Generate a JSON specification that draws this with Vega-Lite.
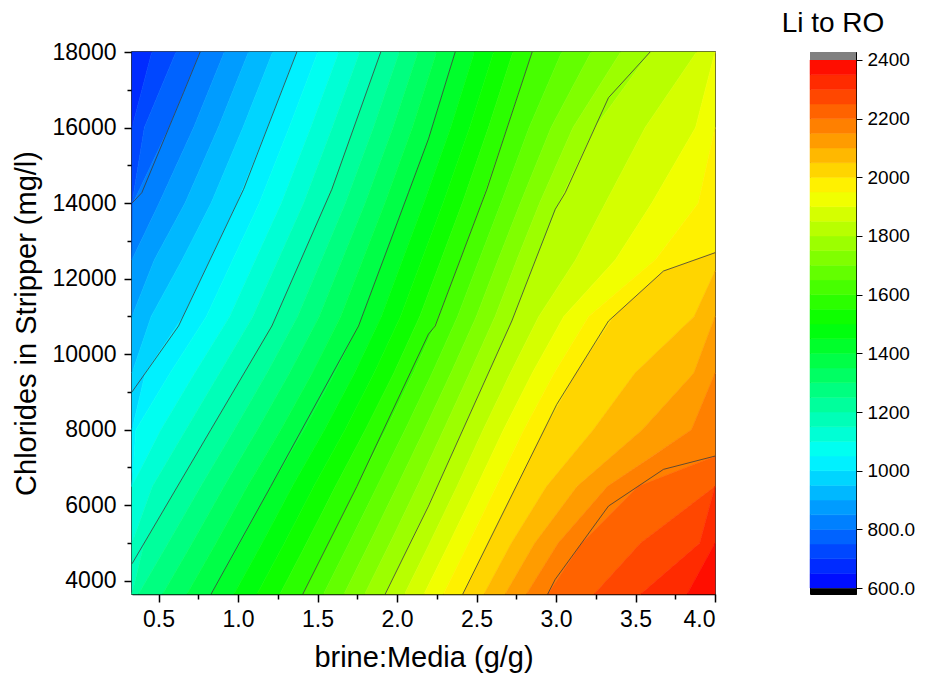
{
  "$schema": "https://vega.github.io/schema/vega-lite/v6.json",
  "background": "white",
  "padding": {"left": 11, "top": 9, "right": 5, "bottom": 5},
  "bounds": "flush",
  "spacing": 95,
  "config": {"font": "Liberation Sans", "view": {"stroke": "black", "strokeWidth": 1.5}},
  "datasets": {
    "bands": [
      {"v":675,"y":18000,"a":0.3333,"b":0.458},{"v":675,"y":16000,"a":0.3333,"b":0.3333},
      {"v":725,"y":18000,"a":0.458,"b":0.61},{"v":725,"y":16000,"a":0.3333,"b":0.411},{"v":725,"y":14000,"a":0.3333,"b":0.3333},
      {"v":775,"y":18000,"a":0.61,"b":0.762},{"v":775,"y":16000,"a":0.411,"b":0.566},{"v":775,"y":14000,"a":0.3333,"b":0.34},{"v":775,"y":12500,"a":0.3333,"b":0.3333},
      {"v":825,"y":18000,"a":0.762,"b":0.914},{"v":825,"y":16000,"a":0.566,"b":0.721},{"v":825,"y":14000,"a":0.34,"b":0.504},{"v":825,"y":12500,"a":0.3333,"b":0.3333},
      {"v":875,"y":18000,"a":0.914,"b":1.066},{"v":875,"y":16000,"a":0.721,"b":0.876},{"v":875,"y":14000,"a":0.504,"b":0.667},{"v":875,"y":12500,"a":0.3333,"b":0.474},{"v":875,"y":11000,"a":0.3333,"b":0.3333},
      {"v":925,"y":18000,"a":1.066,"b":1.218},{"v":925,"y":16000,"a":0.876,"b":1.031},{"v":925,"y":14000,"a":0.667,"b":0.831},{"v":925,"y":12500,"a":0.474,"b":0.649},{"v":925,"y":11000,"a":0.3333,"b":0.454},{"v":925,"y":9500,"a":0.3333,"b":0.3333},
      {"v":975,"y":18000,"a":1.218,"b":1.37},{"v":975,"y":16000,"a":1.031,"b":1.186},{"v":975,"y":14000,"a":0.831,"b":0.994},{"v":975,"y":12500,"a":0.649,"b":0.824},{"v":975,"y":11000,"a":0.454,"b":0.655},{"v":975,"y":9500,"a":0.3333,"b":0.417},{"v":975,"y":8000,"a":0.3333,"b":0.3333},
      {"v":1025,"y":18000,"a":1.37,"b":1.502},{"v":1025,"y":16000,"a":1.186,"b":1.322},{"v":1025,"y":14000,"a":0.994,"b":1.134},{"v":1025,"y":12500,"a":0.824,"b":0.967},{"v":1025,"y":11000,"a":0.655,"b":0.801},{"v":1025,"y":9500,"a":0.417,"b":0.573},{"v":1025,"y":8000,"a":0.3333,"b":0.358},{"v":1025,"y":6500,"a":0.3333,"b":0.3333},
      {"v":1075,"y":18000,"a":1.502,"b":1.634},{"v":1075,"y":16000,"a":1.322,"b":1.458},{"v":1075,"y":14000,"a":1.134,"b":1.273},{"v":1075,"y":12500,"a":0.967,"b":1.11},{"v":1075,"y":11000,"a":0.801,"b":0.948},{"v":1075,"y":9500,"a":0.573,"b":0.728},{"v":1075,"y":8000,"a":0.358,"b":0.515},{"v":1075,"y":6500,"a":0.3333,"b":0.3333},
      {"v":1125,"y":18000,"a":1.634,"b":1.766},{"v":1125,"y":16000,"a":1.458,"b":1.593},{"v":1125,"y":14000,"a":1.273,"b":1.413},{"v":1125,"y":12500,"a":1.11,"b":1.253},{"v":1125,"y":11000,"a":0.948,"b":1.094},{"v":1125,"y":9500,"a":0.728,"b":0.884},{"v":1125,"y":8000,"a":0.515,"b":0.672},{"v":1125,"y":6500,"a":0.3333,"b":0.462},{"v":1125,"y":5000,"a":0.3333,"b":0.3333},
      {"v":1175,"y":18000,"a":1.766,"b":1.898},{"v":1175,"y":16000,"a":1.593,"b":1.729},{"v":1175,"y":14000,"a":1.413,"b":1.552},{"v":1175,"y":12500,"a":1.253,"b":1.396},{"v":1175,"y":11000,"a":1.094,"b":1.24},{"v":1175,"y":9500,"a":0.884,"b":1.039},{"v":1175,"y":8000,"a":0.672,"b":0.829},{"v":1175,"y":6500,"a":0.462,"b":0.619},{"v":1175,"y":5000,"a":0.3333,"b":0.41},{"v":1175,"y":3650,"a":0.3333,"b":0.3333},
      {"v":1225,"y":18000,"a":1.898,"b":2.015},{"v":1225,"y":16000,"a":1.729,"b":1.852},{"v":1225,"y":14000,"a":1.552,"b":1.676},{"v":1225,"y":12500,"a":1.396,"b":1.526},{"v":1225,"y":11000,"a":1.24,"b":1.375},{"v":1225,"y":9500,"a":1.039,"b":1.182},{"v":1225,"y":8000,"a":0.829,"b":0.976},{"v":1225,"y":6500,"a":0.619,"b":0.766},{"v":1225,"y":5000,"a":0.41,"b":0.561},{"v":1225,"y":3650,"a":0.3333,"b":0.374},
      {"v":1275,"y":18000,"a":2.015,"b":2.132},{"v":1275,"y":16000,"a":1.852,"b":1.975},{"v":1275,"y":14000,"a":1.676,"b":1.8},{"v":1275,"y":12500,"a":1.526,"b":1.655},{"v":1275,"y":11000,"a":1.375,"b":1.511},{"v":1275,"y":9500,"a":1.182,"b":1.324},{"v":1275,"y":8000,"a":0.976,"b":1.122},{"v":1275,"y":6500,"a":0.766,"b":0.913},{"v":1275,"y":5000,"a":0.561,"b":0.712},{"v":1275,"y":3650,"a":0.374,"b":0.526},
      {"v":1325,"y":18000,"a":2.132,"b":2.249},{"v":1325,"y":16000,"a":1.975,"b":2.097},{"v":1325,"y":14000,"a":1.8,"b":1.924},{"v":1325,"y":12500,"a":1.655,"b":1.785},{"v":1325,"y":11000,"a":1.511,"b":1.646},{"v":1325,"y":9500,"a":1.324,"b":1.467},{"v":1325,"y":8000,"a":1.122,"b":1.269},{"v":1325,"y":6500,"a":0.913,"b":1.059},{"v":1325,"y":5000,"a":0.712,"b":0.862},{"v":1325,"y":3650,"a":0.526,"b":0.679},
      {"v":1375,"y":18000,"a":2.249,"b":2.366},{"v":1375,"y":16000,"a":2.097,"b":2.22},{"v":1375,"y":14000,"a":1.924,"b":2.048},{"v":1375,"y":12500,"a":1.785,"b":1.914},{"v":1375,"y":11000,"a":1.646,"b":1.781},{"v":1375,"y":9500,"a":1.467,"b":1.609},{"v":1375,"y":8000,"a":1.269,"b":1.415},{"v":1375,"y":6500,"a":1.059,"b":1.206},{"v":1375,"y":5000,"a":0.862,"b":1.013},{"v":1375,"y":3650,"a":0.679,"b":0.831},
      {"v":1425,"y":18000,"a":2.366,"b":2.487},{"v":1425,"y":16000,"a":2.22,"b":2.338},{"v":1425,"y":14000,"a":2.048,"b":2.169},{"v":1425,"y":12500,"a":1.914,"b":2.035},{"v":1425,"y":11000,"a":1.781,"b":1.902},{"v":1425,"y":9500,"a":1.609,"b":1.733},{"v":1425,"y":8000,"a":1.415,"b":1.544},{"v":1425,"y":6500,"a":1.206,"b":1.342},{"v":1425,"y":5000,"a":1.013,"b":1.152},{"v":1425,"y":3650,"a":0.831,"b":0.975},
      {"v":1475,"y":18000,"a":2.487,"b":2.608},{"v":1475,"y":16000,"a":2.338,"b":2.457},{"v":1475,"y":14000,"a":2.169,"b":2.29},{"v":1475,"y":12500,"a":2.035,"b":2.156},{"v":1475,"y":11000,"a":1.902,"b":2.022},{"v":1475,"y":9500,"a":1.733,"b":1.856},{"v":1475,"y":8000,"a":1.544,"b":1.673},{"v":1475,"y":6500,"a":1.342,"b":1.477},{"v":1475,"y":5000,"a":1.152,"b":1.292},{"v":1475,"y":3650,"a":0.975,"b":1.12},
      {"v":1525,"y":18000,"a":2.608,"b":2.729},{"v":1525,"y":16000,"a":2.457,"b":2.575},{"v":1525,"y":14000,"a":2.29,"b":2.411},{"v":1525,"y":12500,"a":2.156,"b":2.277},{"v":1525,"y":11000,"a":2.022,"b":2.143},{"v":1525,"y":9500,"a":1.856,"b":1.98},{"v":1525,"y":8000,"a":1.673,"b":1.801},{"v":1525,"y":6500,"a":1.477,"b":1.613},{"v":1525,"y":5000,"a":1.292,"b":1.431},{"v":1525,"y":3650,"a":1.12,"b":1.264},
      {"v":1575,"y":18000,"a":2.729,"b":2.85},{"v":1575,"y":16000,"a":2.575,"b":2.693},{"v":1575,"y":14000,"a":2.411,"b":2.532},{"v":1575,"y":12500,"a":2.277,"b":2.398},{"v":1575,"y":11000,"a":2.143,"b":2.263},{"v":1575,"y":9500,"a":1.98,"b":2.103},{"v":1575,"y":8000,"a":1.801,"b":1.93},{"v":1575,"y":6500,"a":1.613,"b":1.748},{"v":1575,"y":5000,"a":1.431,"b":1.57},{"v":1575,"y":3650,"a":1.264,"b":1.408},
      {"v":1625,"y":18000,"a":2.85,"b":3.036},{"v":1625,"y":16000,"a":2.693,"b":2.831},{"v":1625,"y":14000,"a":2.532,"b":2.654},{"v":1625,"y":12500,"a":2.398,"b":2.517},{"v":1625,"y":11000,"a":2.263,"b":2.381},{"v":1625,"y":9500,"a":2.103,"b":2.221},{"v":1625,"y":8000,"a":1.93,"b":2.051},{"v":1625,"y":6500,"a":1.748,"b":1.875},{"v":1625,"y":5000,"a":1.57,"b":1.699},{"v":1625,"y":3650,"a":1.408,"b":1.538},
      {"v":1675,"y":18000,"a":3.036,"b":3.221},{"v":1675,"y":16000,"a":2.831,"b":2.969},{"v":1675,"y":14000,"a":2.654,"b":2.776},{"v":1675,"y":12500,"a":2.517,"b":2.636},{"v":1675,"y":11000,"a":2.381,"b":2.499},{"v":1675,"y":9500,"a":2.221,"b":2.339},{"v":1675,"y":8000,"a":2.051,"b":2.172},{"v":1675,"y":6500,"a":1.875,"b":2.001},{"v":1675,"y":5000,"a":1.699,"b":1.827},{"v":1675,"y":3650,"a":1.538,"b":1.667},
      {"v":1725,"y":18000,"a":3.221,"b":3.407},{"v":1725,"y":16000,"a":2.969,"b":3.107},{"v":1725,"y":14000,"a":2.776,"b":2.897},{"v":1725,"y":12500,"a":2.636,"b":2.754},{"v":1725,"y":11000,"a":2.499,"b":2.617},{"v":1725,"y":9500,"a":2.339,"b":2.457},{"v":1725,"y":8000,"a":2.172,"b":2.293},{"v":1725,"y":6500,"a":2.001,"b":2.128},{"v":1725,"y":5000,"a":1.827,"b":1.956},{"v":1725,"y":3650,"a":1.667,"b":1.797},
      {"v":1775,"y":18000,"a":3.407,"b":3.592},{"v":1775,"y":16000,"a":3.107,"b":3.245},{"v":1775,"y":14000,"a":2.897,"b":3.019},{"v":1775,"y":12500,"a":2.754,"b":2.873},{"v":1775,"y":11000,"a":2.617,"b":2.735},{"v":1775,"y":9500,"a":2.457,"b":2.575},{"v":1775,"y":8000,"a":2.293,"b":2.414},{"v":1775,"y":6500,"a":2.128,"b":2.254},{"v":1775,"y":5000,"a":1.956,"b":2.084},{"v":1775,"y":3650,"a":1.797,"b":1.926},
      {"v":1825,"y":18000,"a":3.592,"b":3.884},{"v":1825,"y":16000,"a":3.245,"b":3.561},{"v":1825,"y":14000,"a":3.019,"b":3.311},{"v":1825,"y":12500,"a":2.873,"b":3.124},{"v":1825,"y":11000,"a":2.735,"b":2.892},{"v":1825,"y":9500,"a":2.575,"b":2.713},{"v":1825,"y":8000,"a":2.414,"b":2.542},{"v":1825,"y":6500,"a":2.254,"b":2.378},{"v":1825,"y":5000,"a":2.084,"b":2.206},{"v":1825,"y":3650,"a":1.926,"b":2.048},
      {"v":1875,"y":18000,"a":3.884,"b":4},{"v":1875,"y":16000,"a":3.561,"b":3.878},{"v":1875,"y":14000,"a":3.311,"b":3.603},{"v":1875,"y":12500,"a":3.124,"b":3.374},{"v":1875,"y":11000,"a":2.892,"b":3.049},{"v":1875,"y":9500,"a":2.713,"b":2.851},{"v":1875,"y":8000,"a":2.542,"b":2.67},{"v":1875,"y":6500,"a":2.378,"b":2.502},{"v":1875,"y":5000,"a":2.206,"b":2.329},{"v":1875,"y":3650,"a":2.048,"b":2.17},
      {"v":1925,"y":18000,"a":4,"b":4},{"v":1925,"y":16000,"a":3.878,"b":4},{"v":1925,"y":14000,"a":3.603,"b":3.895},{"v":1925,"y":12500,"a":3.374,"b":3.625},{"v":1925,"y":11000,"a":3.049,"b":3.205},{"v":1925,"y":9500,"a":2.851,"b":2.989},{"v":1925,"y":8000,"a":2.67,"b":2.798},{"v":1925,"y":6500,"a":2.502,"b":2.625},{"v":1925,"y":5000,"a":2.329,"b":2.451},{"v":1925,"y":3650,"a":2.17,"b":2.292},
      {"v":1975,"y":16000,"a":4,"b":4},{"v":1975,"y":14000,"a":3.895,"b":4},{"v":1975,"y":12700,"a":3.661,"b":4},{"v":1975,"y":12500,"a":3.625,"b":3.876},{"v":1975,"y":12200,"a":3.541,"b":3.676},{"v":1975,"y":11000,"a":3.205,"b":3.362},{"v":1975,"y":9500,"a":2.989,"b":3.127},{"v":1975,"y":8000,"a":2.798,"b":2.926},{"v":1975,"y":6500,"a":2.625,"b":2.749},{"v":1975,"y":5000,"a":2.451,"b":2.573},{"v":1975,"y":3650,"a":2.292,"b":2.414},
      {"v":2025,"y":12700,"a":4,"b":4},{"v":2025,"y":12500,"a":3.876,"b":4},{"v":2025,"y":12200,"a":3.676,"b":4},{"v":2025,"y":11000,"a":3.362,"b":3.869},{"v":2025,"y":9500,"a":3.127,"b":3.497},{"v":2025,"y":8000,"a":2.926,"b":3.235},{"v":2025,"y":6500,"a":2.749,"b":2.941},{"v":2025,"y":5000,"a":2.573,"b":2.72},{"v":2025,"y":3650,"a":2.414,"b":2.548},
      {"v":2075,"y":12200,"a":4,"b":4},{"v":2075,"y":11000,"a":3.869,"b":4},{"v":2075,"y":9500,"a":3.497,"b":3.867},{"v":2075,"y":8000,"a":3.235,"b":3.543},{"v":2075,"y":6500,"a":2.941,"b":3.133},{"v":2075,"y":5000,"a":2.72,"b":2.867},{"v":2075,"y":3650,"a":2.548,"b":2.681},
      {"v":2125,"y":11000,"a":4,"b":4},{"v":2125,"y":9500,"a":3.867,"b":4},{"v":2125,"y":8000,"a":3.543,"b":3.852},{"v":2125,"y":6500,"a":3.133,"b":3.324},{"v":2125,"y":5000,"a":2.867,"b":3.014},{"v":2125,"y":3650,"a":2.681,"b":2.815},
      {"v":2175,"y":9500,"a":4,"b":4},{"v":2175,"y":8000,"a":3.852,"b":4},{"v":2175,"y":7300,"a":3.606,"b":4},{"v":2175,"y":6500,"a":3.324,"b":3.516},{"v":2175,"y":5000,"a":3.014,"b":3.161},{"v":2175,"y":3650,"a":2.815,"b":2.948},
      {"v":2225,"y":7300,"a":4,"b":4},{"v":2225,"y":6500,"a":3.516,"b":4},{"v":2225,"y":5000,"a":3.161,"b":3.532},{"v":2225,"y":3650,"a":2.948,"b":3.24},
      {"v":2275,"y":6500,"a":4,"b":4},{"v":2275,"y":5000,"a":3.532,"b":3.904},{"v":2275,"y":3650,"a":3.24,"b":3.533},
      {"v":2325,"y":6500,"a":4,"b":4},{"v":2325,"y":5000,"a":3.904,"b":4},{"v":2325,"y":3650,"a":3.533,"b":3.825},
      {"v":2375,"y":5000,"a":4,"b":4},{"v":2375,"y":3650,"a":3.825,"b":4}
    ],
    "lines": [
      {"lev":800,"x":0.3333,"y":14000},{"lev":800,"x":0.395,"y":14274},{"lev":800,"x":0.657,"y":16922},{"lev":800,"x":0.762,"y":18000},
      {"lev":1000,"x":0.3333,"y":9000},{"lev":1000,"x":0.626,"y":10745},{"lev":1000,"x":1.035,"y":14364},{"lev":1000,"x":1.37,"y":18000},
      {"lev":1200,"x":0.3333,"y":4450},{"lev":1200,"x":0.829,"y":8000},{"lev":1200,"x":1.213,"y":10745},{"lev":1200,"x":1.59,"y":14364},{"lev":1200,"x":1.898,"y":18000},
      {"lev":1400,"x":0.831,"y":3650},{"lev":1400,"x":1.206,"y":6500},{"lev":1400,"x":1.758,"y":10745},{"lev":1400,"x":2.072,"y":14274},{"lev":1400,"x":2.198,"y":15700},{"lev":1400,"x":2.366,"y":18000},
      {"lev":1600,"x":1.408,"y":3650},{"lev":1600,"x":1.748,"y":6500},{"lev":1600,"x":2.198,"y":10532},{"lev":1600,"x":2.24,"y":10745},{"lev":1600,"x":2.565,"y":14364},{"lev":1600,"x":2.85,"y":18000},
      {"lev":1800,"x":1.926,"y":3650},{"lev":1800,"x":2.198,"y":5978},{"lev":1800,"x":2.722,"y":10877},{"lev":1800,"x":2.995,"y":13835},{"lev":1800,"x":3.058,"y":14274},{"lev":1800,"x":3.33,"y":16790},{"lev":1800,"x":3.592,"y":18000},
      {"lev":2000,"x":2.414,"y":3650},{"lev":2000,"x":3.005,"y":8671},{"lev":2000,"x":3.33,"y":10877},{"lev":2000,"x":3.676,"y":12201},{"lev":2000,"x":4,"y":12685},
      {"lev":2200,"x":2.948,"y":3650},{"lev":2200,"x":2.995,"y":4037},{"lev":2200,"x":3.33,"y":5978},{"lev":2200,"x":3.676,"y":6950},{"lev":2200,"x":4,"y":7302}
    ],
    "cb": [
      {"v":625,"lo":600,"hi":650},{"v":675,"lo":650,"hi":700},{"v":725,"lo":700,"hi":750},{"v":775,"lo":750,"hi":800},
      {"v":825,"lo":800,"hi":850},{"v":875,"lo":850,"hi":900},{"v":925,"lo":900,"hi":950},{"v":975,"lo":950,"hi":1000},
      {"v":1025,"lo":1000,"hi":1050},{"v":1075,"lo":1050,"hi":1100},{"v":1125,"lo":1100,"hi":1150},{"v":1175,"lo":1150,"hi":1200},
      {"v":1225,"lo":1200,"hi":1250},{"v":1275,"lo":1250,"hi":1300},{"v":1325,"lo":1300,"hi":1350},{"v":1375,"lo":1350,"hi":1400},
      {"v":1425,"lo":1400,"hi":1450},{"v":1475,"lo":1450,"hi":1500},{"v":1525,"lo":1500,"hi":1550},{"v":1575,"lo":1550,"hi":1600},
      {"v":1625,"lo":1600,"hi":1650},{"v":1675,"lo":1650,"hi":1700},{"v":1725,"lo":1700,"hi":1750},{"v":1775,"lo":1750,"hi":1800},
      {"v":1825,"lo":1800,"hi":1850},{"v":1875,"lo":1850,"hi":1900},{"v":1925,"lo":1900,"hi":1950},{"v":1975,"lo":1950,"hi":2000},
      {"v":2025,"lo":2000,"hi":2050},{"v":2075,"lo":2050,"hi":2100},{"v":2125,"lo":2100,"hi":2150},{"v":2175,"lo":2150,"hi":2200},
      {"v":2225,"lo":2200,"hi":2250},{"v":2275,"lo":2250,"hi":2300},{"v":2325,"lo":2300,"hi":2350},{"v":2375,"lo":2350,"hi":2400}
    ],
    "capTop": [{"lo":2400,"hi":2427}],
    "capBottom": [{"lo":580,"hi":600}]
  },
  "hconcat": [
    {
      "width": 583,
      "height": 542,
      "layer": [
        {
          "data": {"name": "bands"},
          "mark": {"type": "area", "orient": "horizontal", "strokeWidth": 0.6},
          "encoding": {
            "y": {"field": "y", "type": "quantitative", "scale": {"domain": [3650, 18000], "nice": false, "zero": false},
              "axis": {"values": [4000, 6000, 8000, 10000, 12000, 14000, 16000, 18000], "format": "d", "title": "Chlorides in Stripper (mg/l)", "grid": false, "labelFontSize": 23, "titleFontSize": 29, "titleFontWeight": "normal", "labelColor": "black", "titleColor": "black", "tickSize": 8, "tickWidth": 1.5, "tickColor": "black", "domainColor": "black", "domainWidth": 1.5, "labelPadding": 8, "titlePadding": 11}},
            "x": {"field": "a", "type": "quantitative", "scale": {"domain": [0.3333, 4], "nice": false, "zero": false},
              "axis": {"values": [0.5, 1, 1.5, 2, 2.5, 3, 3.5, 4], "format": ".1f", "title": "brine:Media (g/g)", "grid": false, "labelFontSize": 23, "titleFontSize": 29, "titleFontWeight": "normal", "labelColor": "black", "titleColor": "black", "tickSize": 8, "tickWidth": 1.5, "tickColor": "black", "domainColor": "black", "domainWidth": 1.5, "labelPadding": 6, "titlePadding": 12, "orient": "bottom"}},
            "x2": {"field": "b"},
            "detail": {"field": "v"},
            "color": {"field": "v", "type": "quantitative", "legend": null,
              "scale": {"type": "linear", "domain": [600, 1050, 1500, 1950, 2400], "range": ["#0000ff", "#00ffff", "#00ff00", "#ffff00", "#ff0000"], "interpolate": "rgb"}},
            "stroke": {"field": "v", "type": "quantitative", "legend": null,
              "scale": {"type": "linear", "domain": [600, 1050, 1500, 1950, 2400], "range": ["#0000ff", "#00ffff", "#00ff00", "#ffff00", "#ff0000"], "interpolate": "rgb"}}
          }
        },
        {
          "data": {"name": "lines"},
          "mark": {"type": "line", "color": "#3c3c3c", "strokeWidth": 0.8},
          "encoding": {
            "x": {"field": "x", "type": "quantitative",
              "axis": {"values": [0.75, 1.25, 1.75, 2.25, 2.75, 3.25, 3.75], "labels": false, "domain": false, "grid": false, "title": null, "tickSize": 5, "tickWidth": 1.5, "tickColor": "black", "orient": "bottom"}},
            "y": {"field": "y", "type": "quantitative",
              "axis": {"values": [5000, 7000, 9000, 11000, 13000, 15000, 17000], "labels": false, "domain": false, "grid": false, "title": null, "tickSize": 5, "tickWidth": 1.5, "tickColor": "black", "orient": "left"}},
            "detail": {"field": "lev"},
            "order": {"field": "y", "type": "quantitative"}
          }
        }
      ],
      "resolve": {"axis": {"x": "independent", "y": "independent"}}
    },
    {
      "width": 46,
      "height": 542,
      "view": {"stroke": "black", "strokeWidth": 1},
      "title": {"text": "Li to RO", "fontSize": 28, "fontWeight": "normal", "font": "Liberation Sans", "color": "black", "offset": 13, "anchor": "middle"},
      "layer": [
        {
          "data": {"name": "cb"},
          "mark": {"type": "rect", "strokeWidth": 0.5},
          "encoding": {
            "x": {"datum": 0, "type": "quantitative", "scale": {"domain": [0, 1], "nice": false}, "axis": null},
            "x2": {"datum": 1},
            "y": {"field": "lo", "type": "quantitative", "scale": {"domain": [580, 2427], "nice": false, "zero": false},
              "axis": {"orient": "right", "values": [600, 800, 1000, 1200, 1400, 1600, 1800, 2000, 2200, 2400], "labelExpr": "datum.value < 1000 ? format(datum.value, '.1f') : format(datum.value, 'd')", "title": null, "grid": false, "labelFontSize": 19, "labelColor": "black", "tickSize": 6, "tickWidth": 1, "tickColor": "black", "domainColor": "black", "domainWidth": 1, "labelPadding": 5}},
            "y2": {"field": "hi"},
            "color": {"field": "v", "type": "quantitative", "legend": null,
              "scale": {"type": "linear", "domain": [600, 1050, 1500, 1950, 2400], "range": ["#0000ff", "#00ffff", "#00ff00", "#ffff00", "#ff0000"], "interpolate": "rgb"}},
            "stroke": {"field": "v", "type": "quantitative", "legend": null,
              "scale": {"type": "linear", "domain": [600, 1050, 1500, 1950, 2400], "range": ["#0000ff", "#00ffff", "#00ff00", "#ffff00", "#ff0000"], "interpolate": "rgb"}}
          }
        },
        {
          "data": {"name": "capTop"},
          "mark": {"type": "rect", "color": "#808080"},
          "encoding": {
            "x": {"datum": 0, "type": "quantitative"},
            "x2": {"datum": 1},
            "y": {"field": "lo", "type": "quantitative"},
            "y2": {"field": "hi"}
          }
        },
        {
          "data": {"name": "capBottom"},
          "mark": {"type": "rect", "color": "#000000"},
          "encoding": {
            "x": {"datum": 0, "type": "quantitative"},
            "x2": {"datum": 1},
            "y": {"field": "lo", "type": "quantitative"},
            "y2": {"field": "hi"}
          }
        }
      ]
    }
  ]
}
